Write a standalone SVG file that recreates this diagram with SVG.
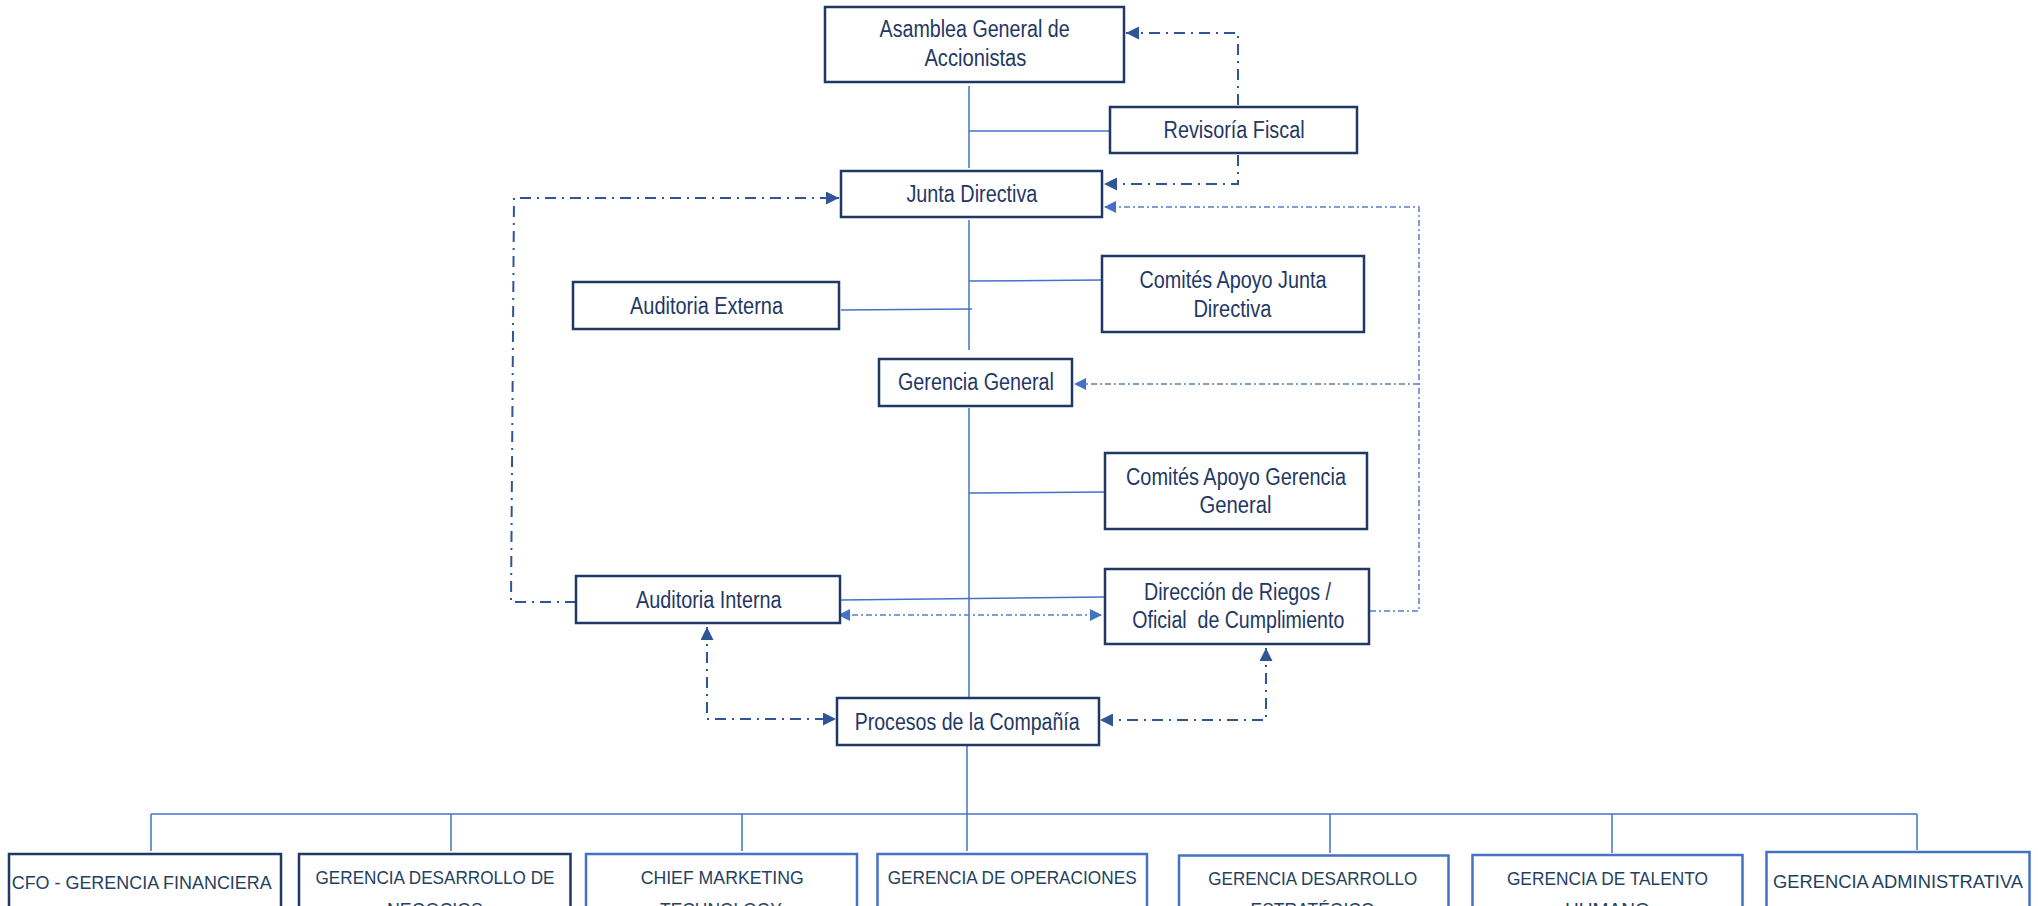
<svg xmlns="http://www.w3.org/2000/svg" width="2038" height="906" viewBox="0 0 2038 906">
<style>
.box{fill:#fff;stroke:#1F3864;stroke-width:2.5}
.boxl{fill:#fff;stroke:#4472C4;stroke-width:2.5}
.t{font-family:"Liberation Sans",Arial,sans-serif;font-size:23px;fill:#1F3864}
.b{font-family:"Liberation Sans",Arial,sans-serif;font-size:17.5px;fill:#243F60}
.solid{fill:none;stroke:#4472C4;stroke-width:1.5}
.dd{fill:none;stroke:#2F5597;stroke-width:2;stroke-dasharray:11 6 2 6}
.dl{fill:none;stroke:#5B7FC7;stroke-width:1.5;stroke-dasharray:6 3 2 3}
</style>
<defs>
<marker id="ad" viewBox="0 0 12 12" refX="12" refY="6" markerWidth="13" markerHeight="13" markerUnits="userSpaceOnUse" orient="auto-start-reverse"><path d="M0,0 L12,6 L0,12 z" fill="#2F5597"/></marker>
<marker id="al" viewBox="0 0 12 12" refX="12" refY="6" markerWidth="12" markerHeight="12" markerUnits="userSpaceOnUse" orient="auto-start-reverse"><path d="M0,0 L12,6 L0,12 z" fill="#4472C4"/></marker>
</defs>
<g id="connectors">
<path class="solid" d="M969,86 V168"/>
<path class="solid" d="M969,220 V350"/>
<path class="solid" d="M969,408 V698"/>
<path class="solid" d="M969,131 H1110"/>
<path class="solid" d="M841,310 L972,309"/>
<path class="solid" d="M969,281 L1102,280"/>
<path class="solid" d="M969,493 L1105,492"/>
<path class="solid" d="M841,600 L1105,597"/>
<path class="solid" d="M967,745 V851"/>
<path class="solid" d="M151,814 H1917"/>
<path class="solid" d="M151,814 V851"/>
<path class="solid" d="M451,814 V851"/>
<path class="solid" d="M742,814 V851"/>
<path class="solid" d="M1330,814 V853"/>
<path class="solid" d="M1612,814 V853"/>
<path class="solid" d="M1917,814 V850"/>
<path class="dd" d="M1238,105 V33 H1126" marker-end="url(#ad)"/>
<path class="dd" d="M1238,155 V184 H1104" marker-end="url(#ad)"/>
<path class="dd" d="M576,602 H511 L514,198 H839" marker-end="url(#ad)"/>
<path class="dd" d="M707,627 V719 H836" marker-start="url(#ad)" marker-end="url(#ad)"/>
<path class="dd" d="M1266,648 V720 H1100" marker-start="url(#ad)" marker-end="url(#ad)"/>
<path class="dl" d="M1370,611 H1419 V207 H1104" marker-end="url(#al)"/>
<path class="dl" d="M1419,384 H1074" marker-end="url(#al)"/>
<path class="dl" d="M838,615 H1102" marker-start="url(#al)" marker-end="url(#al)"/>
</g>
<g id="asamblea"><rect class="box" x="825" y="7" width="299" height="75"/><text class="t" x="879.6" y="37" textLength="190" lengthAdjust="spacingAndGlyphs">Asamblea General de</text><text class="t" x="924.4" y="66" textLength="102" lengthAdjust="spacingAndGlyphs">Accionistas</text></g>
<g id="revisoria"><rect class="box" x="1110" y="107" width="247" height="46"/><text class="t" x="1163.6" y="138" textLength="141" lengthAdjust="spacingAndGlyphs">Revisoría Fiscal</text></g>
<g id="junta"><rect class="box" x="841" y="171" width="261" height="46"/><text class="t" x="906.4" y="202" textLength="131" lengthAdjust="spacingAndGlyphs">Junta Directiva</text></g>
<g id="auditoria-externa"><rect class="box" x="573" y="282" width="266" height="47"/><text class="t" x="630" y="314" textLength="153" lengthAdjust="spacingAndGlyphs">Auditoria Externa</text></g>
<g id="comites-junta"><rect class="box" x="1102" y="256" width="262" height="76"/><text class="t" x="1139.5" y="288" textLength="187" lengthAdjust="spacingAndGlyphs">Comités Apoyo Junta</text><text class="t" x="1193.4" y="317" textLength="78" lengthAdjust="spacingAndGlyphs">Directiva</text></g>
<g id="gerencia-general"><rect class="box" x="879" y="359" width="193" height="47"/><text class="t" x="898" y="390" textLength="156" lengthAdjust="spacingAndGlyphs">Gerencia General</text></g>
<g id="comites-gerencia"><rect class="box" x="1105" y="453" width="262" height="76"/><text class="t" x="1126" y="485" textLength="220" lengthAdjust="spacingAndGlyphs">Comités Apoyo Gerencia</text><text class="t" x="1199.4" y="513" textLength="72" lengthAdjust="spacingAndGlyphs">General</text></g>
<g id="auditoria-interna"><rect class="box" x="576" y="576" width="264" height="47"/><text class="t" x="636" y="608" textLength="145.6" lengthAdjust="spacingAndGlyphs">Auditoria Interna</text></g>
<g id="direccion-riesgos"><rect class="box" x="1105" y="569" width="264" height="75"/><text class="t" x="1144" y="600" textLength="187" lengthAdjust="spacingAndGlyphs">Dirección de Riegos /</text><text class="t" x="1132.3" y="628" textLength="212" lengthAdjust="spacingAndGlyphs">Oficial&#160; de Cumplimiento</text></g>
<g id="procesos"><rect class="box" x="837" y="698" width="262" height="47"/><text class="t" x="854.7" y="730" textLength="225" lengthAdjust="spacingAndGlyphs">Procesos de la Compañía</text></g>
<g id="cfo"><rect class="box" x="9" y="854" width="272" height="80"/><text class="b" x="11.7" y="889" textLength="260" lengthAdjust="spacingAndGlyphs">CFO - GERENCIA FINANCIERA</text></g>
<g id="desarrollo-negocios"><rect class="box" x="299" y="854" width="271.5" height="80"/><text class="b" x="315.5" y="884" textLength="239" lengthAdjust="spacingAndGlyphs">GERENCIA DESARROLLO DE</text><text class="b" x="387" y="915.5" textLength="96" lengthAdjust="spacingAndGlyphs">NEGOCIOS</text></g>
<g id="cmt"><rect class="boxl" x="586" y="854" width="271" height="80"/><text class="b" x="640.7" y="884" textLength="163" lengthAdjust="spacingAndGlyphs">CHIEF MARKETING</text><text class="b" x="660" y="915.5" textLength="122" lengthAdjust="spacingAndGlyphs">TECHNOLOGY</text></g>
<g id="operaciones"><rect class="boxl" x="877.5" y="854" width="269.5" height="80"/><text class="b" x="887.7" y="883.5" textLength="249" lengthAdjust="spacingAndGlyphs">GERENCIA DE OPERACIONES</text></g>
<g id="desarrollo-estrategico"><rect class="boxl" x="1179" y="855.5" width="269.5" height="80"/><text class="b" x="1208.3" y="885" textLength="209" lengthAdjust="spacingAndGlyphs">GERENCIA DESARROLLO</text><text class="b" x="1250.5" y="915.5" textLength="124" lengthAdjust="spacingAndGlyphs">ESTRATÉGICO</text></g>
<g id="talento-humano"><rect class="boxl" x="1472.5" y="855" width="270" height="80"/><text class="b" x="1506.9" y="885" textLength="201" lengthAdjust="spacingAndGlyphs">GERENCIA DE TALENTO</text><text class="b" x="1565" y="915.5" textLength="85" lengthAdjust="spacingAndGlyphs">HUMANO</text></g>
<g id="administrativa"><rect class="boxl" x="1766.5" y="852" width="263" height="80"/><text class="b" x="1773" y="888" textLength="250" lengthAdjust="spacingAndGlyphs">GERENCIA ADMINISTRATIVA</text></g>
</svg>
